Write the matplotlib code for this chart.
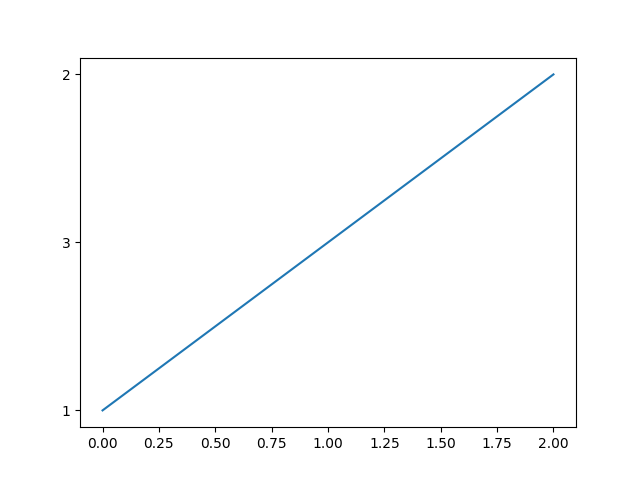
import matplotlib
matplotlib.use("Agg")
import matplotlib.pyplot as plt

# string y values become categories in the order they appear
x_values = [0, 1, 2]
y_labels = ["1", "3", "2"]

fig, ax = plt.subplots(figsize=(6.4, 4.8), dpi=100)
ax.plot(x_values, y_labels)

fig.savefig("out.png", dpi=100)
